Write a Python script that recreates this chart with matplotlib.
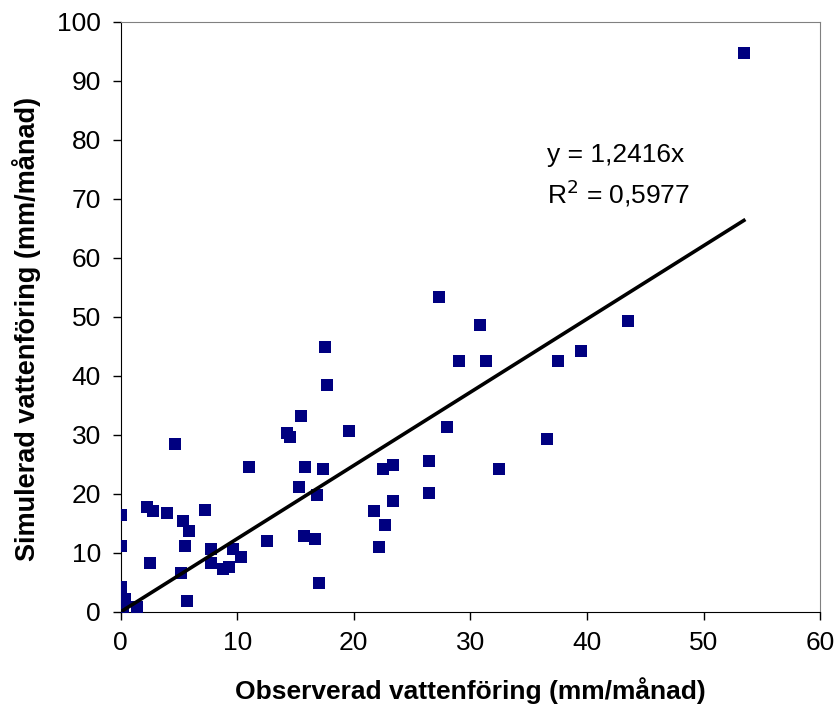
import matplotlib
matplotlib.use("Agg")
import matplotlib.pyplot as plt
import numpy as np

plt.rcParams['font.family'] = ['Liberation Sans', 'DejaVu Sans']

# observerad / simulerad vattenföring (mm/månad)
obs = [53.45, 27.3, 30.8, 43.5, 17.54, 39.5, 29.0, 31.3, 37.5, 17.7,
       15.5, 4.67, 14.3, 14.5, 19.6, 28.0, 36.6, 11.0, 15.8, 17.4,
       23.37, 22.5, 32.46, 26.45, 15.3, 16.85, 26.45, 23.37, 0.0, 2.27,
       2.76, 3.99, 7.25, 5.36, 5.87, 21.7, 22.7, 12.56, 15.7, 16.7,
       0.0, 5.53, 7.76, 9.65, 10.33, 2.56, 7.79, 8.8, 9.3, 5.19,
       22.2, 17.0, 0.0, 5.67, 0.39, 0.24, 1.39]
sim = [94.8, 53.4, 48.7, 49.4, 44.97, 44.3, 42.6, 42.6, 42.6, 38.5,
       33.2, 28.4, 30.4, 29.7, 30.7, 31.4, 29.3, 24.6, 24.6, 24.3,
       24.9, 24.3, 24.3, 25.6, 21.2, 19.8, 20.2, 18.8, 16.4, 17.85,
       17.1, 16.8, 17.2, 15.4, 13.7, 17.1, 14.7, 12.0, 12.8, 12.4,
       11.1, 11.1, 10.7, 10.7, 9.3, 8.35, 8.35, 7.3, 7.7, 6.6,
       11.0, 4.95, 4.2, 1.86, 2.2, 0.9, 0.9]
slope = 1.2416
r2 = 0.5977

fig = plt.figure(figsize=(8.37, 7.16), dpi=100)
ax = fig.add_axes([0.144, 0.1453, 0.836, 0.824])

ax.scatter(obs, sim, marker='s', s=85, color='#000080', linewidths=0, zorder=3)

xl = np.array([0, max(obs)])
ax.plot(xl, slope * xl, color='black', lw=2.6, zorder=4)

ax.text(36.6, 77.5, "y = " + f"{slope}".replace(".", ",") + "x",
        fontsize=19, va='center')
ax.text(36.6, 71.0, "R$^2$ = " + f"{r2}".replace(".", ","),
        fontsize=19, va='center')

ax.set_xlim(0, 60)
ax.set_ylim(0, 100)
ax.set_xticks(range(0, 61, 10))
ax.set_yticks(range(0, 101, 10))
ax.tick_params(labelsize=19, direction='out', length=6, width=1, pad=8)
for s in ['top', 'right']:
    ax.spines[s].set_color('#808080')
ax.spines['left'].set_color('black')
ax.spines['bottom'].set_color('black')

ax.set_xlabel("Observerad vattenföring (mm/månad)", fontsize=19, fontweight='bold', labelpad=16)
ax.set_ylabel("Simulerad vattenföring (mm/månad)", fontsize=19.5, fontweight='bold')
ax.yaxis.set_label_coords(-0.114, 0.48)

plt.savefig("out.png", dpi=100)
